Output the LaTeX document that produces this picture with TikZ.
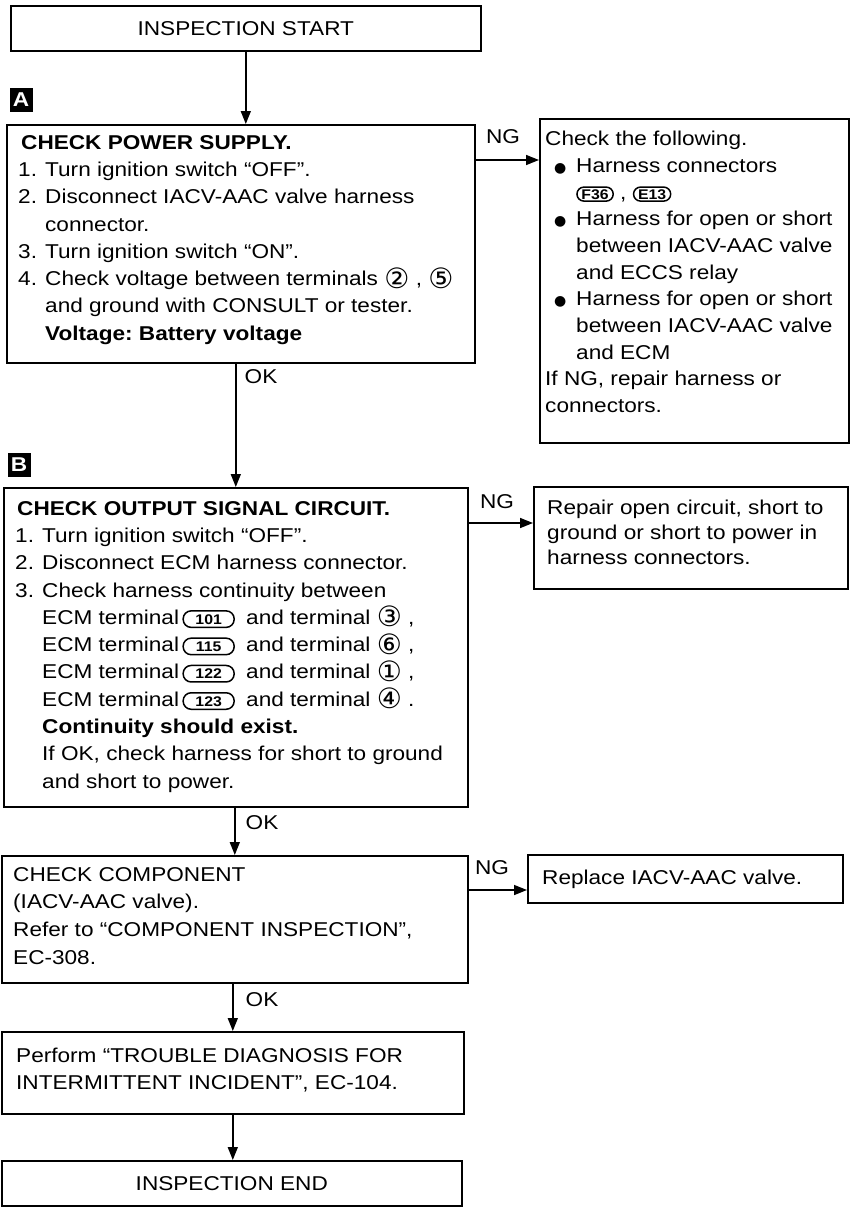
\documentclass[tikz,border=0pt]{standalone}
\usepackage{fontspec}
\setmainfont{Liberation Sans}[FakeStretch=1.13]
\newfontfamily\symf{DejaVu Sans}
\usetikzlibrary{arrows.meta,calc}

\newcommand\itm[1]{\makebox[27pt][l]{#1}}
\newcommand\bul{\makebox[31pt][l]{\hspace{9pt}{\symf\fontsize{14}{14}\selectfont ●}}}
\newcommand\itmb{\makebox[31pt][l]{}}
\newcommand\cd[1]{\raisebox{-2.5pt}{\symf\fontsize{28}{20}\selectfont #1}}
\newcommand\conn[2]{\tikz[baseline=(#1.base)]\node[draw,line width=1.5pt,rounded corners=7pt,inner xsep=4.5pt,inner ysep=2pt,text height=10pt,text depth=0pt,anchor=base,align=center,font=\bfseries\fontsize{14}{14}\selectfont] (#1) {#2};}
\newcommand\term[2]{\tikz[baseline=(#1.base)]\node[draw,line width=1.5pt,rounded corners=8pt,minimum width=51pt,inner xsep=2pt,inner ysep=3pt,text height=10.5pt,text depth=0pt,anchor=base,align=center,font=\bfseries\fontsize{14}{14}\selectfont] (#1) {#2};}

\begin{document}
\frenchspacing
\begin{tikzpicture}[x=1pt,y=-1pt,
  box/.style={draw, line width=1.6pt, rectangle, inner sep=0pt, anchor=north west},
  txt/.style={anchor=north west, inner sep=0pt, align=left},
  lbl/.style={inner sep=0pt, font=\fontsize{20}{24}\selectfont},
  arr/.style={line width=1.5pt, -{Triangle[length=13pt,width=10pt]}},
  tag/.style={fill=black, text=white, inner sep=0pt, minimum width=23pt, minimum height=24pt, font=\bfseries\fontsize{20}{20}\selectfont}]

\fill[white] (0,0) rectangle (854,1207);
\useasboundingbox (0,0) rectangle (854,1207);

% boxes
\node[box, minimum width=470pt, minimum height=45pt, font=\fontsize{20}{24}\selectfont] (start) at (10,5) {INSPECTION START};
\node[box, minimum width=468pt, minimum height=238pt] (boxA) at (6,124) {};
\node[box, minimum width=309pt, minimum height=324pt] (ng1) at (539,118) {};
\node[box, minimum width=464pt, minimum height=319pt] (boxB) at (3,487) {};
\node[box, minimum width=314pt, minimum height=102pt] (rep) at (533,486) {};
\node[box, minimum width=466pt, minimum height=127pt] (chk) at (1,855) {};
\node[box, minimum width=315pt, minimum height=48pt] (repl) at (527,854) {};
\node[box, minimum width=462pt, minimum height=82pt] (perf) at (1,1031) {};
\node[box, minimum width=460pt, minimum height=45pt, font=\fontsize{20}{24}\selectfont] (endb) at (1,1160) {INSPECTION END};

% tags
\node[tag] (tagA) at (21,100) {A};
\node[tag] (tagB) at (19,464.5) {B};

% texts
\node[txt, font=\fontsize{20}{27.3}\selectfont] (boxAt) at (18,135) {%
\hspace{3pt}\textbf{CHECK POWER SUPPLY.}\\
\itm{1.}Turn ignition switch “OFF”.\\
\itm{2.}Disconnect IACV-AAC valve harness\\
\itm{}connector.\\
\itm{3.}Turn ignition switch “ON”.\\
\itm{4.}Check voltage between terminals \cd{②} , \cd{⑤}\\
\itm{}and ground with CONSULT or tester.\\
\itm{}\textbf{Voltage: Battery voltage}};

\node[txt, font=\fontsize{20}{26.7}\selectfont] (ng1t) at (545,131) {%
Check the following.\\
\bul Harness connectors\\
\itmb\conn{f36}{F36} , \conn{e13}{E13}\\
\bul Harness for open or short\\
\itmb between IACV-AAC valve\\
\itmb and ECCS relay\\
\bul Harness for open or short\\
\itmb between IACV-AAC valve\\
\itmb and ECM\\
If NG, repair harness or\\
connectors.};

\node[txt, font=\fontsize{20}{27.3}\selectfont] (boxBt) at (15,501) {%
\hspace{2pt}\textbf{CHECK OUTPUT SIGNAL CIRCUIT.}\\
\itm{1.}Turn ignition switch “OFF”.\\
\itm{2.}Disconnect ECM harness connector.\\
\itm{3.}Check harness continuity between\\
\itm{}ECM terminal\,\term{t101}{101}\hspace{5pt} and terminal \cd{③} ,\\
\itm{}ECM terminal\,\term{t115}{115}\hspace{5pt} and terminal \cd{⑥} ,\\
\itm{}ECM terminal\,\term{t122}{122}\hspace{5pt} and terminal \cd{①} ,\\
\itm{}ECM terminal\,\term{t123}{123}\hspace{5pt} and terminal \cd{④} .\\
\itm{}\textbf{Continuity should exist.}\\
\itm{}If OK, check harness for short to ground\\
\itm{}and short to power.};

\node[txt, font=\fontsize{20}{25}\selectfont] (rept) at (547,500) {%
Repair open circuit, short to\\
ground or short to power in\\
harness connectors.};

\node[txt, font=\fontsize{20}{27.7}\selectfont] (chkt) at (13,867) {%
CHECK COMPONENT\\
(IACV-AAC valve).\\
Refer to “COMPONENT INSPECTION”,\\
EC-308.};

\node[txt, font=\fontsize{20}{27}\selectfont] (replt) at (542,870) {%
Replace IACV-AAC valve.};

\node[txt, font=\fontsize{20}{27}\selectfont] (perft) at (16,1048) {%
Perform “TROUBLE DIAGNOSIS FOR\\
INTERMITTENT INCIDENT”, EC-104.};

% connectors
\coordinate (yA) at (0,160);
\coordinate (yB) at (0,523);
\coordinate (yC) at (0,890);
\draw[arr] (start.south) -- (start.south |- boxA.north);
\draw[arr] (boxA.east |- yA) -- (ng1.west |- yA);
\draw[arr] (boxA.south -| boxB.north) -- (boxB.north);
\draw[arr] (boxB.east |- yB) -- (rep.west |- yB);
\draw[arr] (boxB.south -| chk.north) -- (chk.north);
\draw[arr] (chk.east |- yC) -- (repl.west |- yC);
\draw[arr] (chk.south -| perf.north) -- (perf.north);
\draw[arr] (perf.south) -- (perf.south |- endb.north);

% labels
\node[lbl] (ngA) at (503,137) {NG};
\node[lbl] (ngB) at (497,502) {NG};
\node[lbl] (ngC) at (492,868) {NG};
\node[lbl] (okA) at (261,377) {OK};
\node[lbl] (okB) at (262,823) {OK};
\node[lbl] (okC) at (262,1000) {OK};
\end{tikzpicture}
\end{document}
